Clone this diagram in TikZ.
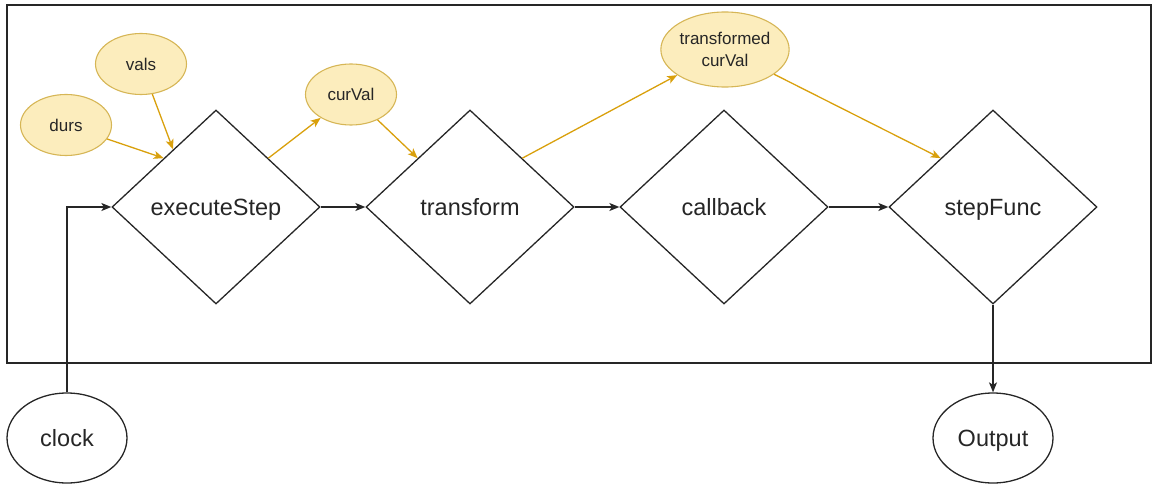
\documentclass[tikz,border=0pt]{standalone}
\usepackage{fontspec}
\setmainfont{Liberation Sans}
\usetikzlibrary{shapes.geometric,arrows.meta,calc}
\definecolor{noteFill}{HTML}{FCEDBD}
\definecolor{noteLine}{HTML}{D6B656}
\definecolor{flowGold}{HTML}{D9A00C}
\definecolor{inkGray}{HTML}{262626}
\tikzset{
  x=1pt, y=-1pt,
  every node/.style={text=inkGray, inner sep=0pt},
  stepbox/.style={shape=diamond, draw=inkGray, line width=1.3pt,
    minimum width=208pt, minimum height=194pt, text height=17pt, text depth=0pt,
    font=\fontsize{23.5}{28}\selectfont},
  notebase/.style={shape=ellipse, draw=noteLine, fill=noteFill, line width=1.1pt,
    minimum width=91pt, minimum height=61pt,
    font=\fontsize{17}{22.5}\selectfont, align=center},
  note/.style={notebase, text height=12.3pt, text depth=0pt},
  terminal/.style={shape=ellipse, draw=inkGray, line width=1.3pt,
    minimum width=120pt, minimum height=90pt, text height=17pt, text depth=0pt,
    font=\fontsize{23.5}{28}\selectfont},
  flow/.style={draw=inkGray, line width=1.3pt, -{Stealth[length=10pt,width=8pt,inset=2.5pt]}},
  dataflow/.style={draw=flowGold, line width=1.3pt, -{Stealth[length=10pt,width=8pt,inset=2.5pt]}},
}
\begin{document}
\begin{tikzpicture}
\useasboundingbox (0,0) rectangle (1153,484);
% enclosing frame
\draw[inkGray, line width=1.3pt] (7,5) rectangle (1151,363);

% main pipeline
\node[stepbox] (exec) at (216,207) {executeStep};
\node[stepbox] (trans) at (470,207) {transform};
\node[stepbox] (cb) at (724,207) {callback};
\node[stepbox] (sf) at (993,207) {stepFunc};

% data values
\node[note] (durs) at (66,125) {durs};
\node[note] (vals) at (141,64) {vals};
\node[note] (cur) at (351,94.5) {curVal};
\node[notebase, minimum width=114pt, minimum height=75pt] (tcur) at (725,49.5) {transformed\\curVal};

% outside terminals
\node[terminal] (clock) at (67,438) {clock};
\node[terminal] (out) at (993,438) {Output};

% control flow
\draw[flow] (clock.north) |- (exec.west);
\draw[flow] (exec.east) -- (trans.west);
\draw[flow] (trans.east) -- (cb.west);
\draw[flow] (cb.east) -- (sf.west);
\draw[flow] (sf.south) -- (out.north);

% data flow
\draw[dataflow] (durs) -- (exec.north west);
\draw[dataflow] (vals) -- ($(exec.north west)!0.18!(exec.north)$);
\draw[dataflow] (exec.north east) -- (cur);
\draw[dataflow] (cur) -- (trans.north west);
\draw[dataflow] (trans.north east) -- (tcur);
\draw[dataflow] (tcur) -- (sf.north west);
\end{tikzpicture}
\end{document}
